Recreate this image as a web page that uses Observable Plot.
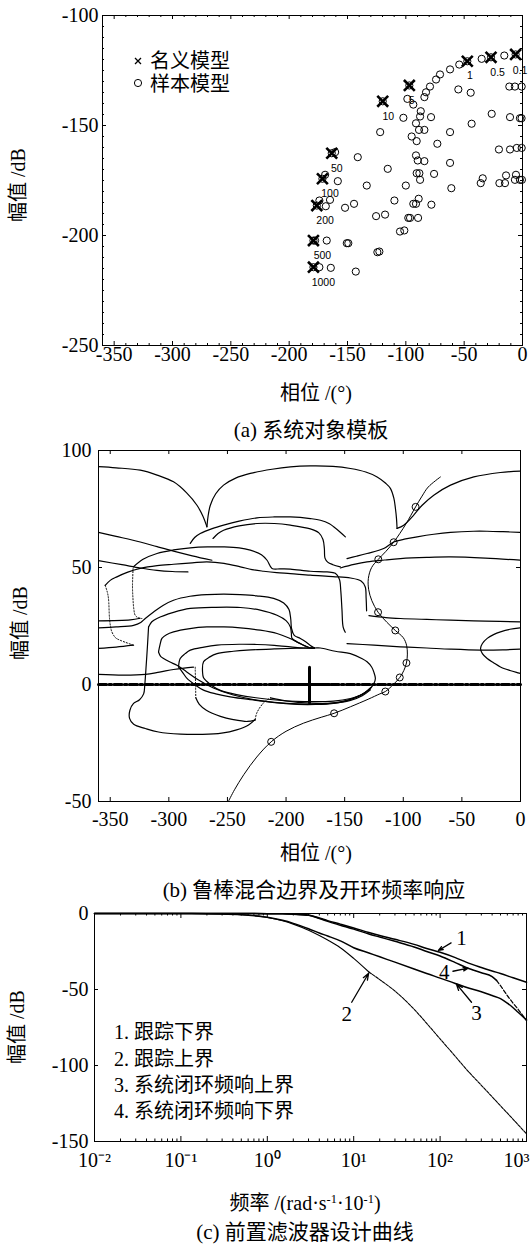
<!DOCTYPE html>
<html><head><meta charset="utf-8">
<script src="https://cdn.jsdelivr.net/npm/d3@7"></script>
<script src="https://cdn.jsdelivr.net/npm/@observablehq/plot@0.6"></script>
<style>
body{margin:0;background:#fff;}
#root{position:relative;width:530px;height:1244px;overflow:hidden;font-family:"Liberation Serif","Noto Sans CJK SC",serif;color:#000;background:#fff;}
.lab{position:absolute;white-space:nowrap;line-height:1;}
.sup{font-size:0.62em;vertical-align:0.55em;}
</style></head><body><div id="root"></div>
<script>
// ---------------- Panel (a) data ----------------
const xTicksA = [-350,-300,-250,-200,-150,-100,-50,0];
const yTicksA = [-250,-200,-150,-100];
const nominalFreq = ["0.1","0.5","1","5","10","50","100","200","500","1000"];
const nominalPhase = [-5.9,-27,-47.3,-97,-119.8,-163.5,-171.5,-176.3,-179.2,-179.2];
const nominalMag = [-117.7,-119,-120.8,-131.8,-139,-162.6,-174.2,-186.4,-202.3,-214.4];
const freqLabelPhase = [-2.2,-21.3,-45,-95,-115,-159.2,-165,-169.2,-171.5,-170.7];
const freqLabelMag = [-125,-126,-127.3,-138.6,-145.9,-169.7,-181,-193.2,-209.1,-221.2];
const samplePhase = [-15.6,-35,-54.2,-62.1,-70.7,-74.1,-79.3,-82.7,-84.1,-55,-44.4,-11.3,-6.5,-0.7,-98.7,-93.6,-87.2,-87.8,-78.4,-102.1,-91.3,-88.7,-84.1,-95,-90.7,-62.1,-73,-43.6,-26.4,-10.7,-2.2,-0.8,-20.2,-10.7,-4.9,-0.7,-122,
  -160.6,-141.2,-91.3,-89.8,-84.1,-115.5,-62.1,-169.2,-158.3,-133.5,-100,-90.7,-88.4,-87.8,-75.8,-61,-35.8,-34.1,-19.8,-15,-14.1,-5.6,-6.5,-2.2,-0.5,
  -174.1,-165,-168.6,-152.1,-144.4,-109.8,-93.6,-91.3,-89,-78.1,-125.5,-117.8,-97.9,-96.4,-89.5,-105,-101.3,-177.8,-167.8,-150.6,-149.3,-124.4,-122.7,-174.1,-164.3,-142.9];
const sampleMag = [-118.2,-119.7,-122.3,-124.5,-126.8,-129.1,-132.3,-134.9,-137.1,-133.6,-135.1,-132.3,-132.3,-132.3,-137.9,-140.5,-143.5,-145.9,-146.2,-146.5,-149,-152,-152,-155,-157.1,-153,-158.3,-149.2,-144.7,-146.2,-146.7,-146.7,-160.9,-160.9,-160.2,-160.2,-153,
  -162.1,-164.4,-163.6,-165.9,-166.2,-169.7,-167,-172.4,-175.3,-177.3,-177.3,-171.7,-171.7,-174.7,-172,-178.5,-176.2,-174,-176.2,-176.2,-172.7,-172.4,-174.7,-174.7,-174.7,
  -184.1,-183.8,-186.7,-187.4,-185.6,-184.1,-185.6,-185.6,-183.3,-186,-191.2,-190.5,-192,-192,-192,-198.2,-197.7,-202.3,-202.3,-203.5,-203.5,-207.6,-207.3,-214.4,-214.7,-216.4];

// ---------------- Panel (b) data ----------------
const xTicksB = [-350,-300,-250,-200,-150,-100,-50,0];
const yTicksB = [-50,0,50,100];
const bC1 = [[-360,93.1],[-345,92.6],[-324.4,91.6],[-310,89.5],[-296,86.6],[-285,82],[-276,76.6],[-271,72],[-267.5,67.4]];
const bC2 = [[-267.5,67.4],[-266.5,72],[-264.6,76.6],[-260,81.5],[-253.3,85.2],[-243,88.2],[-230.5,90.2],[-212,92],[-196.3,93],[-179.3,93.4],[-160,93.2],[-145.1,92.3],[-132,90.8],[-122.3,88.7],[-115,86],[-111,83.8],[-108,79.5],[-106.7,75.2],[-105.8,71],[-105.3,66.7]];
const bC3 = [[-105.3,66.7],[-99.6,68.1],[-91.1,72.4],[-83.9,76.6],[-74,80.9],[-59.7,85.2],[-39.8,88.7],[-17.1,90.6],[0,91.2]];
const bC4 = [[-281.7,60.3],[-278,62.8],[-273.2,64.5],[-263,66.6],[-253.3,68.1],[-240,69.8],[-224.8,71.2],[-210,71.6],[-196.3,71.6],[-179.3,70.9],[-170.7,70.2],[-163,68.7],[-159.4,67.4],[-154,65.2],[-149.4,63.1]];
const bC5 = [[-262.3,62.4],[-258,64.5],[-253.3,65.9],[-240,67.8],[-224.8,68.8],[-210,68.8],[-196.3,68.1],[-179.3,66.5],[-172,64.8],[-168.5,62],[-167.3,58],[-166.8,54],[-164.5,52.3],[-160,51.2],[-153.7,50.3]];
const bC6 = [[-148,53.8],[-140,54.8],[-130.9,56],[-116.7,58.1],[-108.2,60.9],[-98,62.2],[-88.2,63.1],[-74,64.2],[-59.7,65],[-40,65.5],[-28.4,65.5],[-15,65.3],[0,65]];
const bC7 = [[-360,65],[-345,63.3],[-324.4,60.9],[-310,58.9],[-296,57],[-280,55],[-263.2,53.1]];
const bC8 = [[-330.1,50.3],[-322,53.5],[-310.1,56],[-296,57.5],[-281.7,58.4],[-267,58.8],[-253.3,58.8],[-240,58.4],[-230.5,57.4],[-221,55.5],[-216.2,53.1],[-212,49.6],[-205,49.4],[-196.3,49.3],[-179.3,48.4],[-165,48.1],[-158,47.5],[-154.5,45],[-153.3,40],[-152.3,32],[-151.3,24.5],[-149.5,22.3]];
const bC9 = [[-153.7,49.8],[-142,51.3],[-130.9,52.4],[-116,53.2],[-102.4,53.8],[-80,54.3],[-59.7,54.5],[-30,54],[0,53.1]];
const bC10 = [[-360,52.9],[-340,51.2],[-324.4,49.8],[-310.1,48.8],[-297,48.3],[-283.7,48.1]];
const bC11 = [[-354.3,42.4],[-350,44.5],[-344.3,46],[-335,48],[-324.4,49.6],[-310,50.8],[-296,51.4],[-280,52],[-267.5,52.4],[-253,51.8],[-239,50.3],[-229,49.1],[-219.1,48.4],[-208,47.8],[-196.3,47.4],[-179.3,46.7],[-160,46.1],[-145,45.5],[-136,44.2],[-132.5,41.8],[-131.7,37],[-131.3,31.5]];
const bC12 = [[-129.3,29.4],[-115,28.6],[-102.4,28.2],[-80,27.8],[-59.7,27.5],[-30,27.1],[0,26.8]];
const bL1 = [[-360,27.2],[-332.9,27.6],[-324.4,28.3]];
const bC13 = [[-360,24.2],[-345,24.6],[-330.1,25.3],[-324,26.5],[-320.1,28.2],[-313,31],[-305,33.8],[-296,36],[-282,37.7],[-267.5,38.4],[-253,38.6],[-239,38.4],[-225,37.9],[-210.6,36.8],[-202,34.8],[-197.5,32],[-196,28],[-195.3,23.9],[-193,21],[-187.8,19.7],[-183,18.2],[-179.3,16.7],[-175.7,15.6]];
const bC14a = [[-317.3,24.6],[-314.5,26.8],[-310.1,28.2],[-296,30.8],[-281.7,32.5],[-260,33],[-239,32.9],[-222,31.8],[-207.7,29.6],[-200,27.3],[-196.3,24.6],[-195.5,22],[-194.9,19.7],[-190,18],[-185,16.8],[-179.3,15.6],[-175.7,15.6]];
const bC14b = [[-317.3,24.6],[-318.2,16.8],[-319.3,8.3],[-320.5,0],[-321.5,-4],[-325,-6.5],[-330.1,-8.1],[-333.2,-11],[-333.5,-14.5],[-330,-17],[-320,-18.8],[-308.8,-20.3],[-290,-21.2],[-271.2,-21.3],[-255,-20.8],[-242.2,-19.4],[-232,-17.3],[-226.3,-14.9]];
const bC15a = [[-308.8,13.9],[-307.5,17],[-305.9,19.7],[-302,21.3],[-296,22.5],[-282,23.9],[-267.5,24.6],[-253,24.6],[-239,24.2],[-222,23.2],[-207.7,21.8],[-198,20],[-190.6,18.2],[-184,16.5],[-179.3,15.6],[-175.7,15.6]];
const bC15b = [[-308.8,13.9],[-307,12],[-304.5,11.1],[-299,9.6],[-293.1,8.2],[-285,5.5],[-275,2],[-262,-1.5],[-245,-4.5],[-225,-6.7],[-200,-8.2],[-175,-8.5],[-155,-7.5],[-142,-5.8],[-133,-3.5],[-127,-1]];
const bC16a = [[-291.7,7.5],[-290.3,11.1],[-286,13.2],[-281.7,14.7],[-270,16],[-258.9,16.8],[-240,17.2],[-224.8,17.1],[-210,16.7],[-196.3,16.1],[-185,15.6],[-175.7,15.6]];
const bC16b = [[-291.7,7.5],[-288,5],[-284.5,2.6],[-278,0],[-270.4,-2.4],[-260,-4],[-247.6,-5.3],[-230,-6.5],[-210,-7.6],[-190,-8.3],[-170,-8.5],[-155,-7.8],[-143,-6],[-134,-4],[-128,-1.5]];
const bC17 = [[-271.2,5],[-270.4,9.7],[-265,11.8],[-258.9,13.2],[-245,14.2],[-233.3,14.7],[-210,15.2],[-190,15.5],[-175.7,15.6],[-170.7,15.6],[-158,14.2],[-145.1,13.2],[-135,11],[-130.9,9.7],[-127,7.5],[-125.2,5.4],[-123.8,2.6],[-125,0.5],[-128,-1.7],[-132,-3.3],[-136.6,-4.6],[-145,-6],[-159.4,-7.1],[-184.3,-7.3],[-213.3,-6.4],[-242.2,-4.3],[-256,-2.5],[-262.5,-0.7],[-268,1.5],[-270.5,3],[-271.2,5]];
const bD2 = [[-277,-5.7],[-274,-8.5],[-268,-11],[-256,-13.6],[-245,-15],[-233,-15.8],[-226.3,-15.2]];
const bD3 = [[-213.3,-5.7],[-200,-7],[-180,-8],[-160,-8],[-145,-6.8],[-135,-4.8],[-128,-2.3]];
const bL3 = [[-360,15.4],[-345,16],[-330.1,16.8]];
const bL4 = [[-360,4.3],[-338.6,4],[-320.1,4.3],[-308,5.3],[-296,6.4],[-287,7],[-279,7.4]];
const bC18 = [[-148,17.5],[-125,16.8],[-102.4,16.1],[-80,15.6],[-59.7,15.1],[-34.1,14.7],[-15,14.8],[0,15.1]];
const bC19 = [[0,24.2],[-9,23.6],[-17.1,22.5],[-23,21.3],[-28.4,19.7],[-32.5,17.5],[-34.1,15.4],[-32.5,13.2],[-28.4,11.1],[-23,9.3],[-17.1,7.5],[-9,6],[0,4.7]];
const bDot1 = [[-354.3,42.4],[-352.5,39.5],[-351.5,36.8],[-350.6,28.2],[-349.8,25],[-348.6,22.5],[-345.5,20],[-341.5,18.9],[-330.1,16.8]];
const bDot2 = [[-330.5,49.5],[-331,42],[-330.6,36.8],[-329.8,32],[-328.7,29.6],[-326,28.5],[-323,28.2]];
const bDot3 = [[-277.5,7.4],[-277.2,0],[-277,-5.7]];
const bDot4 = [[-226.3,-14.9],[-224.9,-12.1],[-219.1,-7.8],[-213.3,-5.7]];
const openLoop = [[-249.2,-50],[-244,-45],[-236,-38.5],[-225,-31],[-212.7,-24.5],[-200,-20],[-185,-16.5],[-170,-14],[-159,-12.3],[-145,-9.5],[-130,-6.3],[-120,-4],[-115.3,-3],[-108.5,0],[-103,3],[-99.5,6],[-97.3,9.2],[-96.5,13],[-97.2,16.8],[-100,20],[-106.8,23.1],[-114,26.6],[-121.5,30.9],[-126.8,35.8],[-129.5,40.5],[-129.8,45.3],[-127,50],[-121.3,53.5],[-115,56.8],[-108.2,60.8],[-103,64.5],[-97.5,68.8],[-89.5,75.9],[-84,80.5],[-78.7,84.4],[-68.3,88.7]];
const openLoopMarks = [[-212.7,-24.5],[-159,-12.3],[-115.3,-3],[-103,3],[-97.3,9.2],[-106.8,23.1],[-121.5,30.9],[-121.3,53.5],[-108.2,60.8],[-89.5,75.9]];
const zeroLine = [[-360,0],[0,0]];
const plusV = [[-180,-7.8],[-180,7.4]];
const plusH = [[-196,0],[-163,0]];

// ---------------- Panel (c) data ----------------
const xTicksC = [0.01,0.1,1,10,100];
const xLastTickC = [1000];
const yTicksC = [-150,-100,-50,0];
const freqC1 = [0.01,0.1,0.3,0.5,1,1.5,2,3,4,5,7,10,15,20,30,50,70,100,150,200,300,400,500,700,1000];
const magC1 = [0,0,0,0,-0.1,-0.2,-0.4,-1,-3,-4.7,-7,-9.5,-12.5,-14.5,-17,-20.3,-23,-25.5,-29,-32,-35.5,-37.8,-39.5,-42.3,-45.2];
const freqC2 = [0.01,0.1,0.2,0.3,0.5,0.7,1,1.5,2,3,4,5,7,10,15];
const magC2 = [0,0,-0.1,-0.3,-0.8,-1.4,-2.6,-4.8,-7,-11,-14.5,-17.5,-22.5,-29.5,-38.5];
const freqC2tail = [15,20,30,50,70,100,150,200,300,500,700,1000];
const magC2tail = [-38.5,-43.5,-51,-63,-72.3,-82.5,-94,-102.3,-113,-126.5,-135.4,-145];
const freqC3 = [0.01,0.1,0.2,0.3,0.5,0.7,1,1.5,2,3,4,5,7,10,15,20,30,50,70,100,150,200,300,400,500,600,700,800,1000];
const magC3 = [0,0,-0.1,-0.3,-0.8,-1.4,-2.5,-4.5,-6.5,-10,-12.8,-14.8,-18,-22.5,-26,-28.5,-32,-36.5,-39.5,-42.5,-46,-48.5,-51.5,-54,-56,-59,-62,-65,-70];
const freqC4 = [0.01,0.1,0.3,0.5,1,1.5,2,3,4,5,7,10,15,20,30,50,70,100,150,200,300,400,450];
const magC4 = [0,0,0,0,-0.1,-0.2,-0.5,-1.2,-3.3,-5.2,-7.7,-10.3,-13.5,-15.5,-18.3,-22,-25,-28,-32.3,-35.5,-39,-41.5,-44];
const freqC4tail = [450,500,600,700,800,1000];
const magC4tail = [-44,-47.5,-54,-59,-63,-70.5];
const curveLabelText = ["1","2","3","4"];
const curveLabelFreq = [177,8.3,264,112];
const curveLabelMag = [-16.6,-66,-65.6,-38.6];
const arrowFromFreq = [134,9.48,231,141];
const arrowFromMag = [-19.3,-58.4,-58.4,-38];
const arrowToFreq = [95.5,14.9,154,211];
const arrowToMag = [-24.3,-39.3,-46.3,-36];
const legendC = ["1. 跟踪下界","2. 跟踪上界","3. 系统闭环频响上界","4. 系统闭环频响下界"];

// ---------------- helpers ----------------
const root = document.getElementById("root");
const SERIF = "Liberation Serif";
function put(svg, top){ svg.style.position="absolute"; svg.style.left="0px"; svg.style.top=top+"px"; root.appendChild(svg); }
function label(html, x, y, size, mode){
  const d = document.createElement("div");
  d.className = "lab"; d.innerHTML = html;
  d.style.left = x+"px"; d.style.top = y+"px"; d.style.fontSize = size+"px";
  if (mode === "rot") d.style.transform = "translate(-50%,-50%) rotate(-90deg)";
  else if (mode === "left") d.style.transform = "translate(0,-50%)";
  else d.style.transform = "translate(-50%,-50%)";
  root.appendChild(d);
}
function ticksX(vals, len, iH){
  return [Plot.tickX(vals,{x:d=>d, insetTop:iH-len, stroke:"#000", strokeWidth:1}),
          Plot.tickX(vals,{x:d=>d, insetBottom:iH-len, stroke:"#000", strokeWidth:1})];
}
function ticksY(vals, len, iW){
  return [Plot.tickY(vals,{y:d=>d, insetRight:iW-len, stroke:"#000", strokeWidth:1}),
          Plot.tickY(vals,{y:d=>d, insetLeft:iW-len, stroke:"#000", strokeWidth:1})];
}
const style = {fontSize:"20px", fontFamily:SERIF, background:"transparent", overflow:"visible", color:"#000"};

// ---------------- Panel (a) ----------------
{
  const H=375, mT=15, mB=30, mL=102, mR=8, iH=H-mT-mB, iW=530-mL-mR;
  const samples = samplePhase.map((p,i)=>({p, m: sampleMag[i]}));
  const nominal = nominalFreq.map((f,i)=>({f, p: nominalPhase[i], m: nominalMag[i], lp: freqLabelPhase[i], lm: freqLabelMag[i]}));
  const minorX = d3.range(-350, 1, 10).filter(v => v % 50 !== 0);
  const minorY = d3.range(-250, -99, 5).filter(v => v % 50 !== 0);
  const svg = Plot.plot({
    width:530, height:H, marginTop:mT, marginBottom:mB, marginLeft:mL, marginRight:mR,
    x:{domain:[-360,0]}, y:{domain:[-250,-100]}, style,
    marks:[
      ...ticksX(minorX, 2, iH), ...ticksX(xTicksA, 4, iH),
      ...ticksY(minorY, 2, iW), ...ticksY(yTicksA, 4, iW),
      Plot.axisX({ticks:xTicksA, tickSize:0, tickPadding:1, tickFormat:d=>String(d), fontSize:20, fontFamily:SERIF, label:null}),
      Plot.axisY({ticks:yTicksA, tickSize:0, tickPadding:4, tickFormat:d=>String(d), fontSize:20, fontFamily:SERIF, label:null}),
      Plot.dot(samples,{x:"p", y:"m", r:3.6, stroke:"#000", strokeWidth:1}),
      Plot.dot(nominal,{x:"p", y:"m", r:3.6, stroke:"#000", strokeWidth:1}),
      Plot.dot(nominal,{x:"p", y:"m", symbol:"times", r:5, stroke:"#000", strokeWidth:2.6}),
      Plot.text(nominal,{x:"lp", y:"lm", text:"f", fontFamily:"Liberation Sans", fontSize:10.5, fill:"#000"}),
      Plot.frame({stroke:"#000", strokeWidth:1})
    ]
  });
  put(svg, 0);
  label("幅值 /dB", 18, 185, 20, "rot");
  label("相位 /(°)", 316, 393, 20);
  label("(a) 系统对象模板", 311, 430, 21);
  const lg = document.createElement("div");
  lg.innerHTML = '<svg width="12" height="12" style="position:absolute;left:131.5px;top:54.7px"><path d="M3,3L9,9M9,3L3,9" stroke="#000" stroke-width="1.3"/></svg>'+
                 '<svg width="12" height="12" style="position:absolute;left:131.5px;top:77.3px"><circle cx="6" cy="6" r="3.6" fill="none" stroke="#000" stroke-width="1"/></svg>';
  root.appendChild(lg);
  label("名义模型", 150, 61, 20, "left");
  label("样本模型", 150, 84, 20, "left");
}

// ---------------- Panel (b) ----------------
{
  const H=390, mT=10, mB=29, mL=98, mR=10, iH=H-mT-mB, iW=530-mL-mR;
  const solid = [bC1,bC2,bC3,bC4,bC5,bC6,bC7,bC8,bC9,bC10,bC11,bC12,bL1,bC13,bC14a,bC14b,bC15a,bC15b,bC16a,bC16b,bC17,bD2,bD3,bL3,bL4,bC18,bC19];
  const dotted = [bDot1,bDot2,bDot3,bDot4];
  const X = d=>d[0], Y = d=>d[1];
  const svg = Plot.plot({
    width:530, height:H, marginTop:mT, marginBottom:mB, marginLeft:mL, marginRight:mR,
    x:{domain:[-360,0]}, y:{domain:[-50,100]}, style,
    marks:[
      ...ticksX(xTicksB, 4, iH), ...ticksY(yTicksB, 4, iW),
      Plot.axisX({ticks:xTicksB, tickSize:0, tickPadding:10, tickFormat:d=>String(d), fontSize:20, fontFamily:SERIF, label:null}),
      Plot.axisY({ticks:yTicksB, tickSize:0, tickPadding:7, tickFormat:d=>String(d), fontSize:20, fontFamily:SERIF, label:null}),
      ...solid.map(c => Plot.line(c,{x:X, y:Y, curve:"catmull-rom", stroke:"#000", strokeWidth:1.2, clip:true})),
      ...dotted.map(c => Plot.line(c,{x:X, y:Y, curve:"catmull-rom", stroke:"#000", strokeWidth:1, strokeDasharray:"1.2,1.8", clip:true})),
      Plot.line(zeroLine,{x:X, y:Y, stroke:"#000", strokeWidth:3, strokeDasharray:"8,2.5,2.5,2.5"}),
      Plot.line(plusH,{x:X, y:Y, stroke:"#000", strokeWidth:3}),
      Plot.line(plusV,{x:X, y:Y, stroke:"#000", strokeWidth:3}),
      Plot.line(openLoop,{x:X, y:Y, curve:"catmull-rom", stroke:"#000", strokeWidth:1, clip:true}),
      Plot.dot(openLoopMarks,{x:X, y:Y, r:3.5, stroke:"#000", strokeWidth:1}),
      Plot.frame({stroke:"#000", strokeWidth:1})
    ]
  });
  put(svg, 440);
  label("幅值 /dB", 20, 623, 20, "rot");
  label("相位 /(°)", 316, 853, 20);
  label("(b) 鲁棒混合边界及开环频率响应", 314, 890, 21);
}

// ---------------- Panel (c) ----------------
{
  const H=275, mT=13, mB=34, mL=94, mR=4, iH=H-mT-mB, iW=530-mL-mR;
  const sup = {"-":"⁻","0":"⁰","1":"¹","2":"²","3":"³"};
  const fmt = d => "10" + String(Math.round(Math.log10(d))).split("").map(c=>sup[c]).join("");
  const minorX = [];
  for (let k=-2;k<3;k++) for (let m=2;m<10;m++) minorX.push(m*Math.pow(10,k));
  const mk = (fs, ms) => fs.map((f,i)=>({f, m: ms[i]}));
  const c1 = mk(freqC1, magC1), c2 = mk(freqC2, magC2), c2t = mk(freqC2tail, magC2tail),
        c3 = mk(freqC3, magC3), c4 = mk(freqC4, magC4), c4t = mk(freqC4tail, magC4tail);
  const labs = curveLabelText.map((t,i)=>({t, f: curveLabelFreq[i], m: curveLabelMag[i]}));
  const arrows = arrowFromFreq.map((f,i)=>({x1:f, y1:arrowFromMag[i], x2:arrowToFreq[i], y2:arrowToMag[i]}));
  const svg = Plot.plot({
    width:530, height:H, marginTop:mT, marginBottom:mB, marginLeft:mL, marginRight:mR,
    x:{type:"log", domain:[0.01,1000]}, y:{domain:[-150,0]}, style,
    marks:[
      ...ticksX(minorX, 2.5, iH), ...ticksX(xTicksC.concat(xLastTickC), 5, iH), ...ticksY(yTicksC, 4, iW),
      Plot.axisX({ticks:xTicksC, tickSize:0, tickPadding:11, tickFormat:fmt, fontSize:20, fontFamily:SERIF, label:null}),
      Plot.text(xLastTickC,{x:d=>d, frameAnchor:"bottom", text:fmt, lineAnchor:"top", dy:11, dx:3, textAnchor:"end", fontSize:20, fontFamily:SERIF, fill:"#000"}),
      Plot.axisY({ticks:yTicksC, tickSize:0, tickPadding:6, tickFormat:d=>String(d), fontSize:20, fontFamily:SERIF, label:null}),
      Plot.line(c1,{x:"f", y:"m", curve:"monotone-x", stroke:"#000", strokeWidth:1.5}),
      Plot.line(c3,{x:"f", y:"m", curve:"monotone-x", stroke:"#000", strokeWidth:1.5}),
      Plot.line(c4,{x:"f", y:"m", curve:"monotone-x", stroke:"#000", strokeWidth:1.5}),
      Plot.line(c4t,{x:"f", y:"m", curve:"monotone-x", stroke:"#000", strokeWidth:1.2, strokeDasharray:"4,2"}),
      Plot.line(c2,{x:"f", y:"m", curve:"monotone-x", stroke:"#000", strokeWidth:1.1}),
      Plot.line(c2t,{x:"f", y:"m", curve:"monotone-x", stroke:"#000", strokeWidth:1.1, strokeDasharray:"3,1.2"}),
      Plot.arrow(arrows,{x1:"x1", y1:"y1", x2:"x2", y2:"y2", stroke:"#000", strokeWidth:1.3, headLength:8, headAngle:40}),
      Plot.text(labs,{x:"f", y:"m", text:"t", fontSize:21, fontFamily:SERIF, fill:"#000"}),
      Plot.frame({stroke:"#000", strokeWidth:1})
    ]
  });
  put(svg, 900);
  label("幅值 /dB", 17, 1027, 20, "rot");
  legendC.forEach((t,i)=> label(t, 114, [1032,1058.5,1085,1111][i], 20, "left"));
  label('频率 /(rad·s<span class="sup">-1</span>·10<span class="sup">-1</span>)', 305, 1203, 20);
  label("(c) 前置滤波器设计曲线", 305, 1232, 21);
}
</script></body></html>
